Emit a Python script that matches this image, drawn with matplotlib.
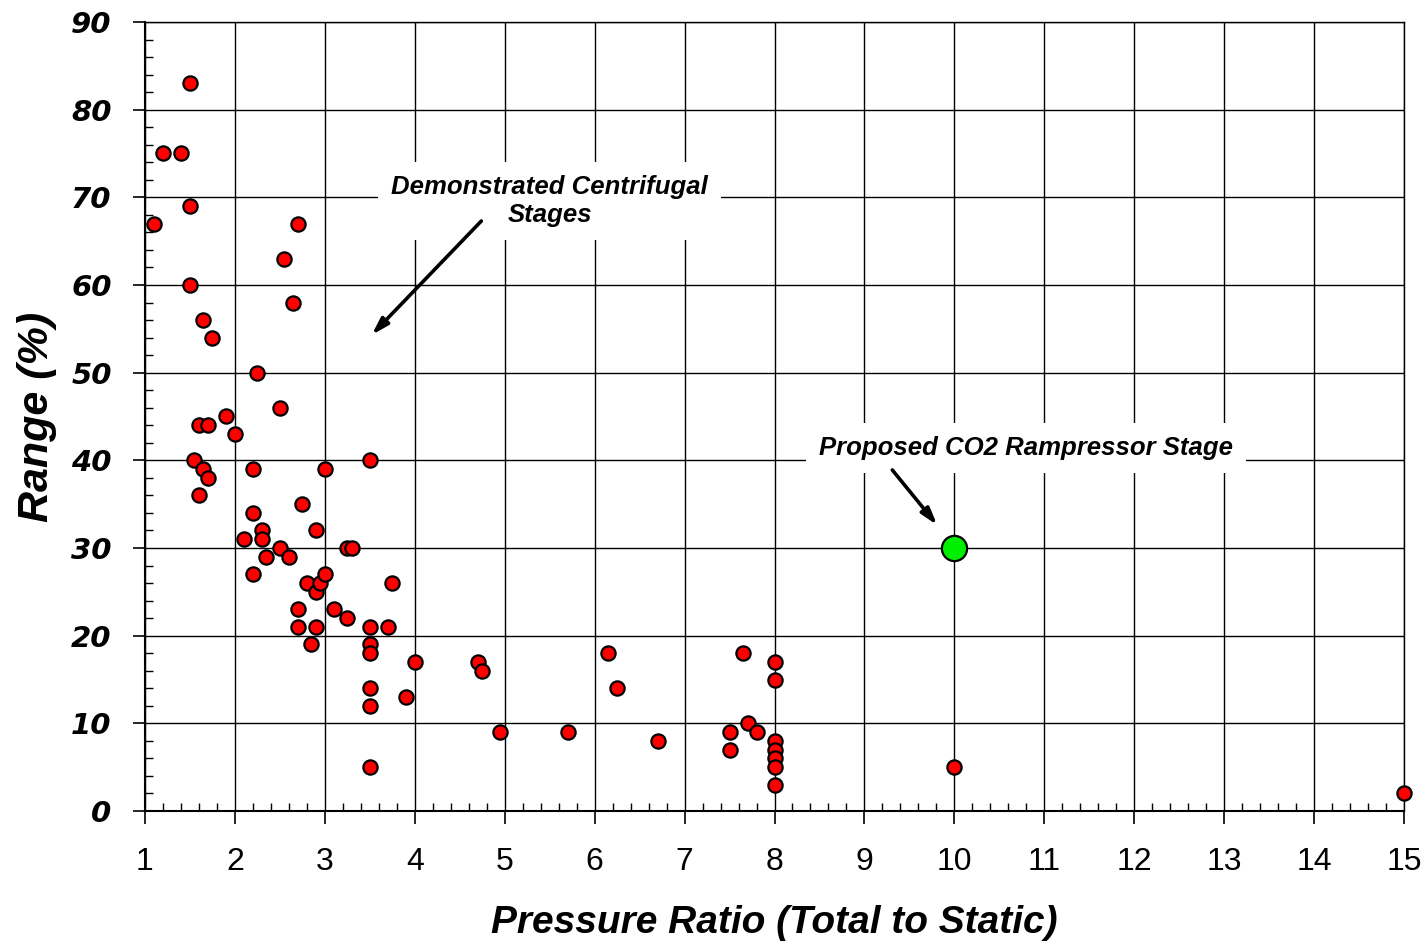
import matplotlib
matplotlib.use("Agg")
import matplotlib.pyplot as plt
from matplotlib.ticker import MultipleLocator

# Demonstrated centrifugal stages: pressure ratio vs range (%)
pressure_ratio = [1.1, 1.2, 1.4, 1.5, 1.5, 1.5, 1.65, 1.75, 1.6, 1.7, 1.9, 2.0,
                  1.55, 1.65, 1.7, 1.6, 2.25, 2.5, 2.55, 2.65, 2.7, 2.2, 2.2, 2.1,
                  2.3, 2.3, 2.35, 2.5, 2.6, 2.2, 3.0, 3.5, 2.75, 2.9, 3.25, 3.3,
                  2.8, 2.9, 2.95, 3.0, 3.75, 2.7, 3.1, 3.25, 2.7, 2.9, 3.5, 3.7,
                  2.85, 3.5, 3.5, 4.0, 3.5, 3.9, 3.5, 3.5, 4.7, 4.75, 4.95, 5.7,
                  6.15, 6.25, 6.7, 7.5, 7.5, 7.65, 7.7, 7.8, 8.0, 8.0, 8.0, 8.0,
                  8.0, 8.0, 8.0, 10.0, 15.0]
range_pct = [67, 75, 75, 83, 69, 60, 56, 54, 44, 44, 45, 43,
             40, 39, 38, 36, 50, 46, 63, 58, 67, 39, 34, 31,
             32, 31, 29, 30, 29, 27, 39, 40, 35, 32, 30, 30,
             26, 25, 26, 27, 26, 23, 23, 22, 21, 21, 21, 21,
             19, 19, 18, 17, 14, 13, 12, 5, 17, 16, 9, 9,
             18, 14, 8, 9, 7, 18, 10, 9, 17, 15, 8, 7,
             6, 5, 3, 5, 2]

# Proposed stage
proposed_pr = [10.0]
proposed_range = [30]

x_ticks = list(range(1, 16))
y_ticks = list(range(0, 91, 10))

fig = plt.figure(figsize=(14.25, 9.42), dpi=100)
ax = fig.add_axes([145/1425, 1 - 811/942, (1404-145)/1425, (811-22)/942])

ax.set_xlim(1, 15)
ax.set_ylim(0, 90)
ax.set_xticks(x_ticks)
ax.set_yticks(y_ticks)
ax.xaxis.set_minor_locator(MultipleLocator(0.2))
ax.yaxis.set_minor_locator(MultipleLocator(2))
ax.grid(True, which='major', color='black', linewidth=1.0)
ax.set_axisbelow(True)

for s in ax.spines.values():
    s.set_linewidth(1.0)
    s.set_color('black')
ax.spines['left'].set_linewidth(1.5)
ax.spines['bottom'].set_linewidth(1.5)

ax.tick_params(which='major', direction='out', length=9, width=1.2,
               top=False, right=False)
ax.tick_params(which='minor', direction='in', length=6, width=1.0,
               top=False, right=False)
ax.tick_params(axis='y', which='major', pad=15)
ax.tick_params(axis='x', which='major', pad=17)

for lab in ax.get_yticklabels():
    lab.set_fontfamily('DejaVu Sans')
    lab.set_fontweight('bold')
    lab.set_fontstyle('italic')
    lab.set_fontsize(21)
for lab in ax.get_xticklabels():
    lab.set_fontfamily('Liberation Sans')
    lab.set_fontsize(23)

ax.scatter(pressure_ratio, range_pct, s=105, c='#ff0000', edgecolors='black',
           linewidths=1.6, zorder=3, clip_on=False)
ax.scatter(proposed_pr, proposed_range, s=330, c='#00ee00', edgecolors='black',
           linewidths=1.6, zorder=4, clip_on=False)

ax.set_xlabel('Pressure Ratio (Total to Static)', fontfamily='Liberation Sans',
              fontweight='bold', fontstyle='italic', fontsize=28, labelpad=20)
ax.set_ylabel('Range (%)', fontfamily='Liberation Sans', fontweight='bold',
              fontstyle='italic', fontsize=31, labelpad=10)

bbox = dict(boxstyle='square,pad=0.5', fc='white', ec='none')
ax.text(5.5, 69.6, 'Demonstrated Centrifugal\nStages', ha='center', va='center',
        fontfamily='Liberation Sans', fontweight='bold', fontstyle='italic',
        fontsize=18.5, bbox=bbox, zorder=5, linespacing=1.22)
ax.annotate('', xy=(3.52, 54.3), xytext=(4.74, 67.3),
            arrowprops=dict(arrowstyle='-|>,head_length=1.0,head_width=0.3',
                            color='black', lw=2.6, shrinkA=0, shrinkB=0),
            zorder=6)

ax.text(10.8, 41.4, 'Proposed CO2 Rampressor Stage', ha='center', va='center',
        fontfamily='Liberation Sans', fontweight='bold', fontstyle='italic',
        fontsize=18.5, bbox=bbox, zorder=5)
ax.annotate('', xy=(9.81, 32.6), xytext=(9.31, 38.9),
            arrowprops=dict(arrowstyle='-|>,head_length=1.0,head_width=0.3',
                            color='black', lw=2.6, shrinkA=0, shrinkB=0),
            zorder=6)

fig.savefig('out.png', dpi=100)
